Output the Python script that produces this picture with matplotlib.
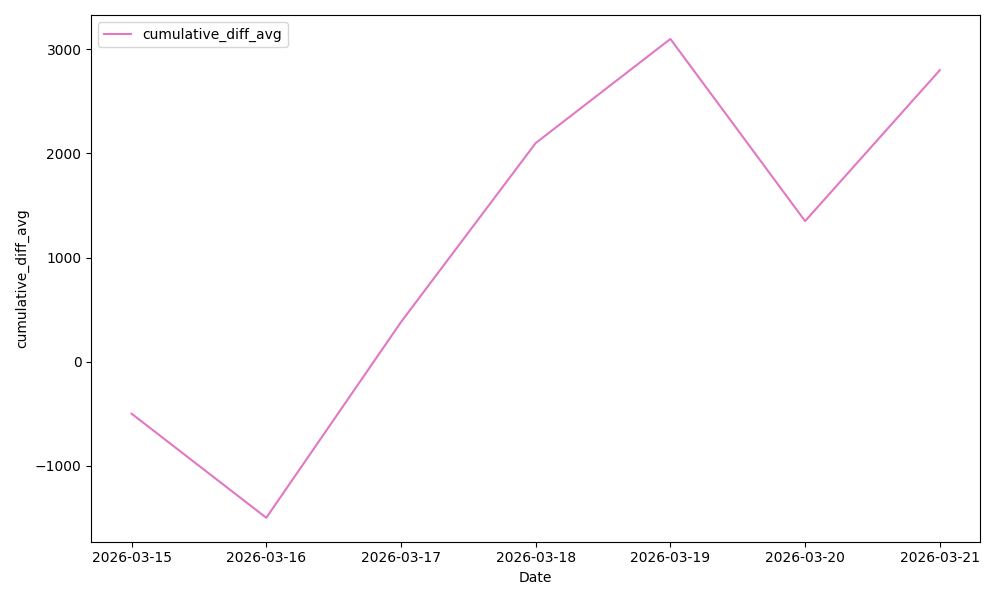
import matplotlib
matplotlib.use("Agg")
import matplotlib.pyplot as plt
import pandas as pd

dates = ["2026-03-15", "2026-03-16", "2026-03-17", "2026-03-18",
         "2026-03-19", "2026-03-20", "2026-03-21"]
cumulative_diff_avg = [-500, -1500, 380, 2100, 3100, 1350, 2800]

df = pd.DataFrame({"Date": dates, "cumulative_diff_avg": cumulative_diff_avg})

fig, ax = plt.subplots(figsize=(10, 6), dpi=100)
ax.plot(df["Date"], df["cumulative_diff_avg"], color="tab:pink", label="cumulative_diff_avg")
ax.set_xlabel("Date")
ax.set_ylabel("cumulative_diff_avg")
ax.legend(loc="upper left")
fig.tight_layout()
fig.savefig("out.png", dpi=100)
